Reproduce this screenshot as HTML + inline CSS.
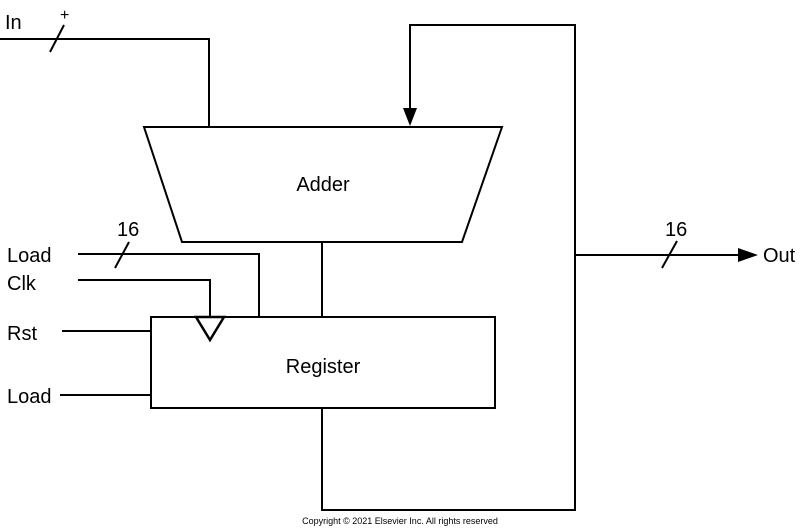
<!DOCTYPE html>
<html><head><meta charset="utf-8"><style>
html,body{margin:0;padding:0;background:#fff;width:800px;height:529px;overflow:hidden}
svg{display:block}
text{font-family:"Liberation Sans",Arial,sans-serif;fill:#000}
</style></head><body>
<svg width="800" height="529" viewBox="0 0 800 529" xmlns="http://www.w3.org/2000/svg">
<g fill="none" stroke="#000" stroke-width="2">
<polyline points="0,39 209,39 209,127"/>
<line x1="50" y1="52" x2="64" y2="25"/>
<polygon points="144,127 502,127 462,242 182,242"/>
<polyline points="322,408 322,510 575,510 575,25 410,25 410,110"/>
<line x1="322" y1="242" x2="322" y2="317"/>
<rect x="151" y="317" width="344" height="91"/>
<polyline points="78,254 259,254 259,317"/>
<line x1="115" y1="268" x2="129" y2="242"/>
<polyline points="78,280 210,280 210,317"/>
<polygon points="196,317 224,317 210,340" stroke-width="2.5"/>
<line x1="62" y1="331" x2="151" y2="331"/>
<line x1="60" y1="395" x2="151" y2="395"/>
<line x1="575" y1="255" x2="740" y2="255"/>
<line x1="662" y1="268" x2="677" y2="241"/>
</g>
<polygon points="403,108 417,108 410,126" fill="#000"/>
<polygon points="738,248 738,262 758,255" fill="#000"/>
<text x="5" y="29" font-size="20">In</text>
<text x="60" y="20" font-size="16">+</text>
<text x="323" y="191" font-size="20" text-anchor="middle">Adder</text>
<text x="323" y="373" font-size="20" text-anchor="middle">Register</text>
<text x="117" y="236" font-size="20">16</text>
<text x="665" y="236" font-size="20">16</text>
<text x="763" y="262" font-size="20">Out</text>
<text x="7" y="262" font-size="20">Load</text>
<text x="7" y="290" font-size="20">Clk</text>
<text x="7" y="340" font-size="20">Rst</text>
<text x="7" y="403" font-size="20">Load</text>
<text x="400" y="524" font-size="9" text-anchor="middle">Copyright © 2021 Elsevier Inc. All rights reserved</text>
</svg>
</body></html>
